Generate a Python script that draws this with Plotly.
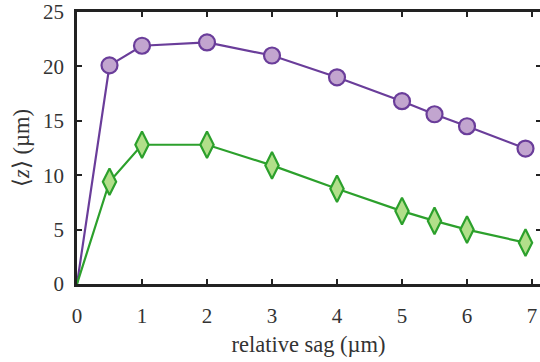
import plotly.graph_objects as go

# relative sag (µm) and mean height <z> (µm) for the two configurations
sag = [0, 0.5, 1, 2, 3, 4, 5, 5.5, 6, 6.9]
z_circle = [0, 20.1, 21.9, 22.2, 21.0, 19.0, 16.8, 15.6, 14.5, 12.45]
z_diamond = [0, 9.4, 12.8, 12.8, 10.9, 8.75, 6.7, 5.8, 5.0, 3.8]

x_ticks = [0, 1, 2, 3, 4, 5, 6, 7]
y_ticks = [0, 5, 10, 15, 20, 25]

PURPLE_LINE, PURPLE_FILL = "#6a3d9a", "#c2a5cf"
GREEN_LINE, GREEN_FILL = "#2ca02c", "#b2df8a"
AXIS = "#222222"
TEXT = "#333333"
FONT = "Liberation Serif"
TICK_FONT = dict(family=FONT, size=21, color=TEXT)
TITLE_FONT = dict(family=FONT, size=22.5, color=TEXT)


def marker_sizes(values, size):
    # the origin point carries no marker
    return [0] + [size] * (len(values) - 1)


fig = go.Figure()
fig.add_trace(go.Scatter(
    x=sag, y=z_circle, mode="lines+markers",
    line=dict(color=PURPLE_LINE, width=2.2),
    marker=dict(symbol="circle", size=marker_sizes(z_circle, 16),
                color=PURPLE_FILL, opacity=1,
                line=dict(color=PURPLE_LINE, width=2.2)),
    showlegend=False,
))
fig.add_trace(go.Scatter(
    x=sag, y=z_diamond, mode="lines+markers",
    line=dict(color=GREEN_LINE, width=2.2),
    marker=dict(symbol="diamond-tall", size=marker_sizes(z_diamond, 19),
                color=GREEN_FILL, opacity=1,
                line=dict(color=GREEN_LINE, width=2.2)),
    showlegend=False,
))
# right-hand tick marks without an axis line
fig.add_trace(go.Scatter(x=[None], y=[None], yaxis="y2", showlegend=False,
                         hoverinfo="skip"))

fig.update_layout(
    width=540, height=362,
    margin=dict(l=77, r=0, t=7, b=78),
    paper_bgcolor="white", plot_bgcolor="white",
    font=TICK_FONT,
    xaxis=dict(
        range=[0, 7.123], tickvals=x_ticks,
        ticks="inside", ticklen=5, tickwidth=2, tickcolor=AXIS,
        showline=True, linewidth=2.5, linecolor=AXIS, mirror="ticks",
        showgrid=False, zeroline=False,
        title=dict(text="relative sag (µm)", standoff=10, font=TITLE_FONT),
        tickfont=TICK_FONT, ticklabeloverflow="allow",
        ticklabelstandoff=11,
    ),
    yaxis=dict(
        range=[0, 25], tickvals=y_ticks,
        ticks="inside", ticklen=5, tickwidth=2, tickcolor=AXIS,
        showline=True, linewidth=2.5, linecolor=AXIS,
        showgrid=False, zeroline=False,
        title=dict(text="⟨<i>z</i>⟩ (µm)", standoff=8, font=TITLE_FONT),
        tickfont=TICK_FONT, ticklabeloverflow="allow",
        ticklabelstandoff=6,
    ),
    yaxis2=dict(
        range=[0, 25], tickvals=y_ticks, overlaying="y", side="right",
        ticks="inside", ticklen=4, tickwidth=2, tickcolor=AXIS,
        showticklabels=False, showline=False, showgrid=False, zeroline=False,
    ),
)

fig.write_html("out.html")
